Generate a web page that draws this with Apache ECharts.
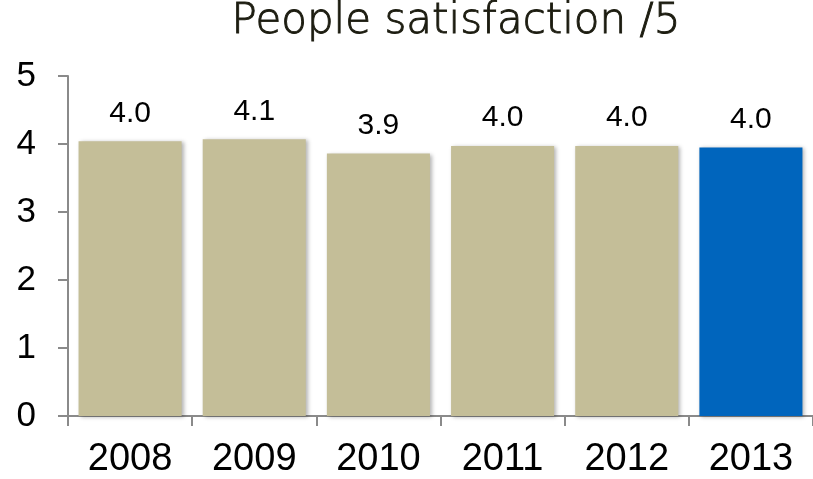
<!DOCTYPE html>
<html>
<head>
<meta charset="utf-8">
<script src="https://cdn.jsdelivr.net/npm/echarts@6/dist/echarts.min.js"></script>
<style>html,body{margin:0;padding:0;background:#fff;}#c{width:813px;height:479px;}</style>
</head>
<body>
<div id="c"></div>
<script>
const categories = ['2008', '2009', '2010', '2011', '2012', '2013'];
const values = [4.04, 4.07, 3.86, 3.97, 3.97, 3.95];
const highlightIndex = 5;
const titleText = 'People satisfaction /5';

const chart = echarts.init(document.getElementById('c'));
chart.setOption({
  animation: false,
  backgroundColor: '#ffffff',
  title: {
    text: titleText,
    left: 451, top: -4,
    textAlign: 'center',
    textStyle: { fontFamily: 'DejaVu Sans', fontWeight: 200, fontSize: 42, color: '#1c1c10',
      textBorderColor: '#1c1c10', textBorderWidth: 0.9 }
  },
  grid: { left: 68, right: -3, top: 76, bottom: 62, containLabel: false },
  xAxis: {
    type: 'category',
    data: categories,
    axisLine: { lineStyle: { color: '#8a8a8a', width: 2 } },
    axisTick: { show: true, length: 10, lineStyle: { color: '#8a8a8a', width: 2 } },
    axisLabel: { color: '#000', fontFamily: 'Liberation Sans', fontSize: 38, margin: 25 }
  },
  yAxis: {
    type: 'value', min: 0, max: 5, interval: 1,
    splitLine: { show: false },
    axisLine: { show: true, lineStyle: { color: '#8a8a8a', width: 2 } },
    axisTick: { show: true, length: 10, lineStyle: { color: '#8a8a8a', width: 2 } },
    axisLabel: { color: '#000', fontFamily: 'Liberation Sans', fontSize: 35, margin: 32 }
  },
  series: [{
    type: 'bar',
    data: values.map((v, i) => ({
      value: v,
      itemStyle: { color: i === highlightIndex ? '#0065BD' : '#C4BE98' }
    })),
    barCategoryGap: '17%',
    itemStyle: { shadowBlur: 4, shadowOffsetX: 2, shadowOffsetY: 1, shadowColor: 'rgba(0,0,0,0.3)' },
    label: {
      show: true, position: 'top', distance: 13,
      color: '#000', fontFamily: 'Liberation Sans', fontSize: 30,
      formatter: p => p.value.toFixed(1)
    }
  }]
});
</script>
</body>
</html>
